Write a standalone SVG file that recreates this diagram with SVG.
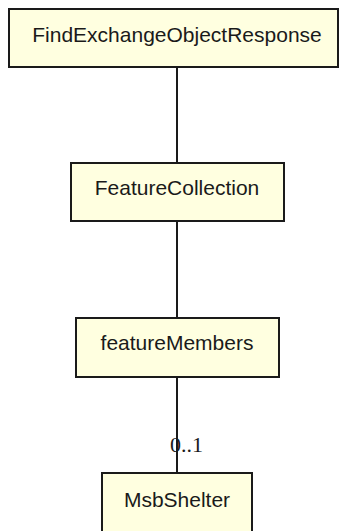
<svg xmlns="http://www.w3.org/2000/svg" width="340" height="531" viewBox="0 0 340 531">
<style>
.box{fill:#ffffe0;stroke:#1a1a1a;stroke-width:2}
.lbl{font-family:"Liberation Sans",Arial,sans-serif;font-size:21px;fill:#1a1a1a;text-anchor:middle}
.mult{font-family:"Liberation Serif","Times New Roman",serif;font-size:22px;fill:#1a1a1a}
.edge{stroke:#1a1a1a;stroke-width:2;fill:none}
</style>
<rect width="340" height="531" fill="#ffffff"/>
<g id="connectors">
<line class="edge" x1="177" y1="67" x2="177" y2="163"/>
<line class="edge" x1="177" y1="221" x2="177" y2="318"/>
<line class="edge" x1="177" y1="377" x2="177" y2="473"/>
<text class="mult" x="170" y="452">0..1</text>
</g>
<g id="FindExchangeObjectResponse">
<rect class="box" x="9" y="9" width="329" height="58"/>
<text class="lbl" x="177" y="42">FindExchangeObjectResponse</text>
</g>
<g id="FeatureCollection">
<rect class="box" x="71" y="163" width="213" height="58"/>
<text class="lbl" x="177" y="195">FeatureCollection</text>
</g>
<g id="featureMembers">
<rect class="box" x="76" y="318" width="203" height="59"/>
<text class="lbl" x="177" y="350">featureMembers</text>
</g>
<g id="MsbShelter">
<rect class="box" x="102" y="473" width="150" height="62"/>
<text class="lbl" x="177" y="507">MsbShelter</text>
</g>
</svg>
